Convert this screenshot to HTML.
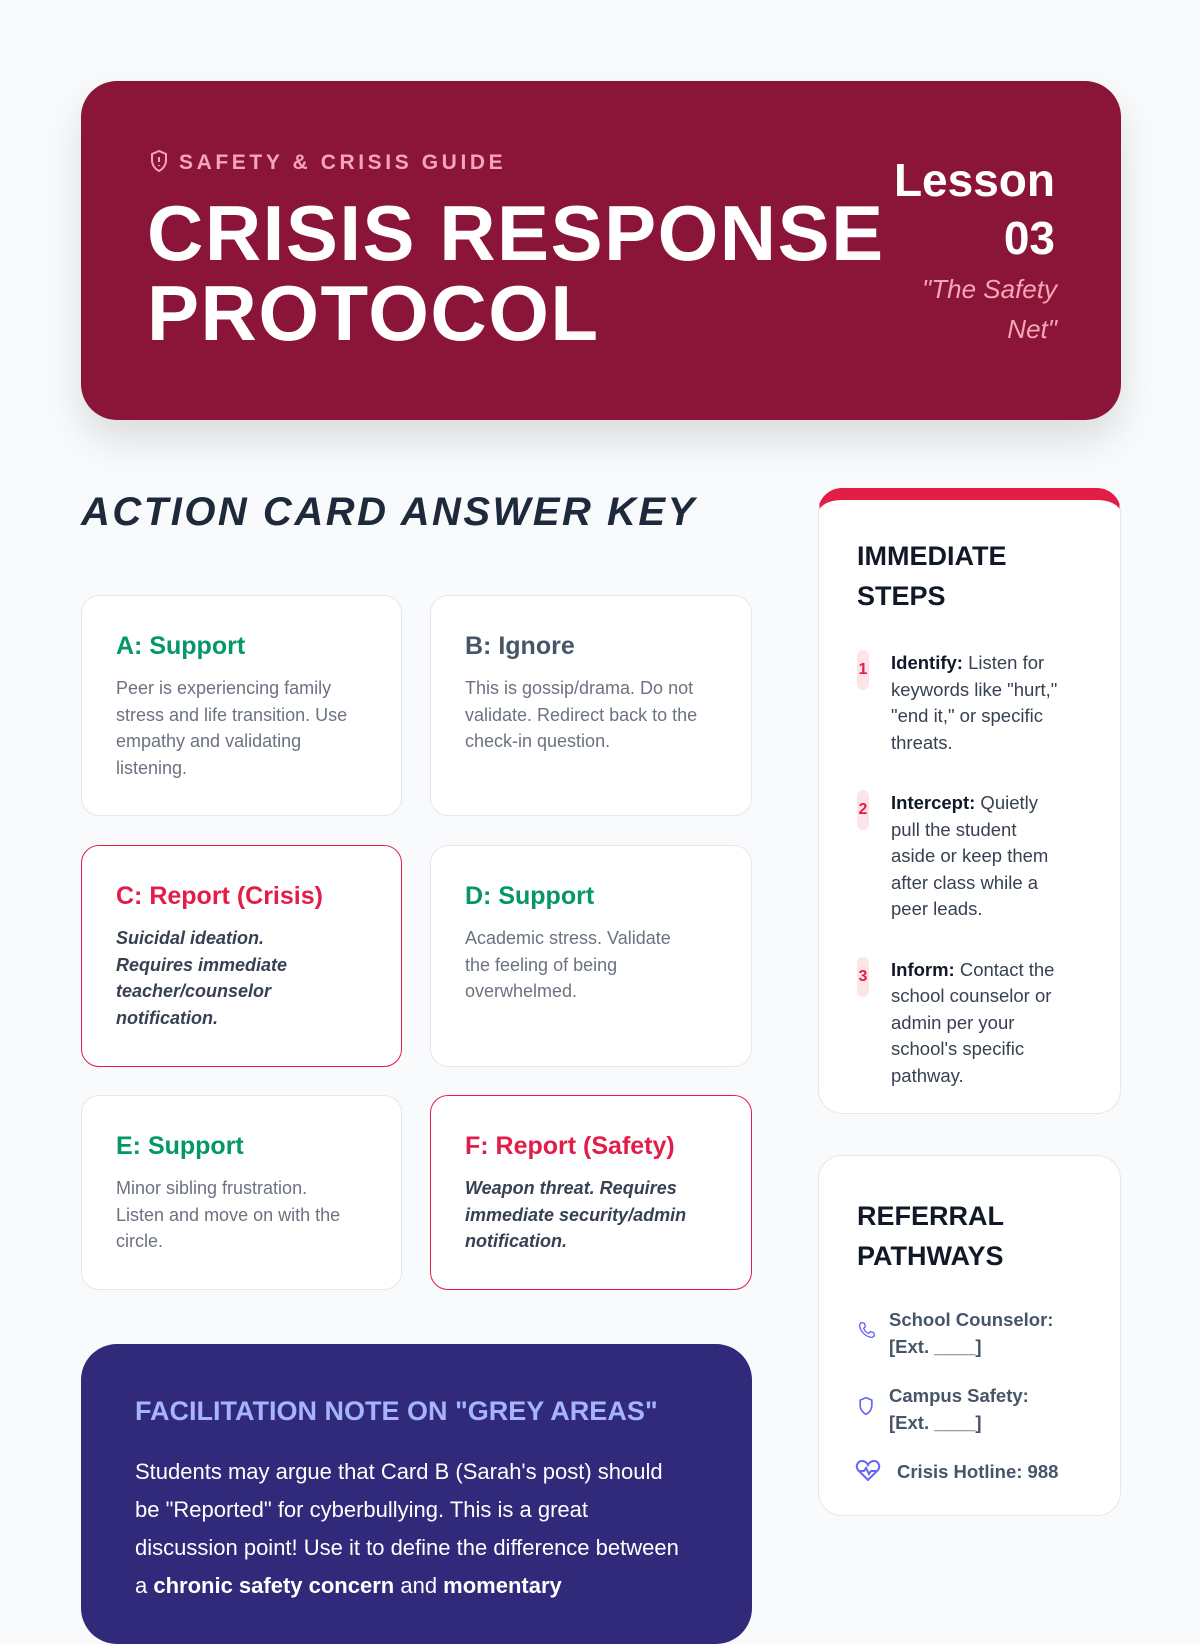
<!DOCTYPE html>
<html><head><meta charset="utf-8"><style>
*{box-sizing:border-box;margin:0;padding:0}
body{width:1200px;height:1600px;background:#f8fafc;font-family:"Liberation Sans",sans-serif;position:relative;overflow:hidden}
.hdr{position:absolute;left:81px;top:81px;width:1040px;height:339px;background:#8a1538;border-radius:36px;box-shadow:0 20px 40px rgba(0,0,0,.12)}
.kick{position:absolute;left:68px;top:68px;color:#f6a5b5;font-size:21px;font-weight:bold;letter-spacing:3.6px}
.title{position:absolute;left:66px;top:112px;color:#fff;font-size:78px;font-weight:900;line-height:80px;letter-spacing:1.5px}
.les{position:absolute;right:66px;top:70px;text-align:right;color:#fff;font-size:46px;line-height:58px;font-weight:bold}
.net{position:absolute;right:64px;top:188px;text-align:right;color:#f6a5b5;font-size:26px;line-height:40px;font-style:italic;width:160px}
.ak{position:absolute;left:81px;top:490px;font-size:40px;font-weight:900;font-style:italic;color:#1e293b;letter-spacing:2.5px}
.card{position:absolute;background:#fff;border:1.5px solid #e5e7eb;border-radius:18px;padding:36px 34px}
.card h3{font-size:25px;font-weight:bold;margin-bottom:14px}
.card p{font-size:18px;line-height:26.5px;color:#6b7280;width:252px}
.red{border:1.5px solid #e11d48}
.red p{font-style:italic;font-weight:bold;color:#374151;width:245px}
.g{color:#059669}.r{color:#e11d48}.s{color:#475569}
.purple{position:absolute;left:81px;top:1344px;width:671px;height:300px;background:#312a7a;border-radius:36px;padding:52px 54px}
.purple h3{color:#a5b4fc;font-size:27px;font-weight:bold;margin-bottom:26px}
.purple p{color:#fff;font-size:22px;line-height:38px;width:545px}
.side{position:absolute;left:818px;width:303px;background:#fff;border:1.5px solid #e5e7eb;border-radius:24px;padding:40px 38px}
.side h3{font-size:27px;font-weight:bold;color:#111827;line-height:40px}
.step{position:relative;padding-left:34px;font-size:18.5px;line-height:26.5px;color:#374151;margin-top:34px;width:225px}
.step .n{position:absolute;left:0;top:0;width:12px;height:40px;background:#fde4e9;border-radius:6px;color:#e11d48;font-weight:bold;font-size:16px;text-align:center;line-height:40px}
.step b{color:#111827}
.ref{position:relative;padding-left:32px;font-size:18.5px;line-height:27px;color:#475569;font-weight:bold;margin-top:22px;width:205px}
.ref svg{position:absolute;left:0;top:14px}
</style></head><body>
<div class="hdr">
 <div class="kick"><svg width="20" height="24" viewBox="0 0 20 24" style="vertical-align:-4px;margin-right:10px"><path d="M10 2L3 5v6c0 5 3 9 7 11 4-2 7-6 7-11V5z" fill="none" stroke="#f6a5b5" stroke-width="2"/><path d="M10 8v5M10 16v1" stroke="#f6a5b5" stroke-width="2"/></svg>SAFETY &amp; CRISIS GUIDE</div>
 <div class="title">CRISIS RESPONSE<br>PROTOCOL</div>
 <div class="les">Lesson<br>03</div>
 <div class="net">"The Safety Net"</div>
</div>
<div class="ak">ACTION CARD ANSWER KEY</div>

<div class="card" style="left:81px;top:595px;width:321px;height:221px"><h3 class="g">A: Support</h3><p>Peer is experiencing family stress and life transition. Use empathy and validating listening.</p></div>
<div class="card" style="left:430px;top:595px;width:322px;height:221px"><h3 class="s">B: Ignore</h3><p>This is gossip/drama. Do not validate. Redirect back to the check-in question.</p></div>
<div class="card red" style="left:81px;top:845px;width:321px;height:222px"><h3 class="r">C: Report (Crisis)</h3><p style="width:200px">Suicidal ideation. Requires immediate teacher/counselor notification.</p></div>
<div class="card" style="left:430px;top:845px;width:322px;height:222px"><h3 class="g">D: Support</h3><p style="width:235px">Academic stress. Validate the feeling of being overwhelmed.</p></div>
<div class="card" style="left:81px;top:1095px;width:321px;height:195px"><h3 class="g">E: Support</h3><p style="width:225px">Minor sibling frustration. Listen and move on with the circle.</p></div>
<div class="card red" style="left:430px;top:1095px;width:322px;height:195px"><h3 class="r">F: Report (Safety)</h3><p style="width:230px">Weapon threat. Requires immediate security/admin notification.</p></div>

<div class="purple"><h3>FACILITATION NOTE ON "GREY AREAS"</h3>
<p>Students may argue that Card B (Sarah's post) should be "Reported" for cyberbullying. This is a great discussion point! Use it to define the difference between a <b>chronic safety concern</b> and <b>momentary</b></p></div>

<div class="side" style="top:488px;height:626px;border-top:12px solid #e11d48;padding-top:36px">
 <h3>IMMEDIATE<br>STEPS</h3>
 <div class="step"><span class="n">1</span><b>Identify:</b> Listen for keywords like "hurt," "end it," or specific threats.</div>
 <div class="step" style="width:198px"><span class="n">2</span><b>Intercept:</b> Quietly pull the student aside or keep them after class while a peer leads.</div>
 <div class="step"><span class="n">3</span><b>Inform:</b> Contact the school counselor or admin per your school's specific pathway.</div>
</div>
<div class="side" style="top:1155px;height:361px">
 <h3>REFERRAL<br>PATHWAYS</h3>
 <div class="ref" style="margin-top:30px"><svg width="20" height="20" viewBox="0 0 24 24"><path d="M5 3l4 1 1 4-2 2c1 3 3 5 6 6l2-2 4 1 1 4-3 2C10 20 4 14 3 6z" fill="none" stroke="#6366f1" stroke-width="1.6"/></svg>School Counselor: [Ext. ____]</div>
 <div class="ref" style="width:190px"><svg width="18" height="20" viewBox="0 0 20 24"><path d="M10 2L3 5v6c0 5 3 9 7 11 4-2 7-6 7-11V5z" fill="none" stroke="#6366f1" stroke-width="2"/></svg>Campus Safety: [Ext. ____]</div>
 <div class="ref" style="width:230px"><svg width="26" height="22" viewBox="0 0 26 22" style="top:2px;left:-2px"><path d="M13 20L3 10C0 6 3 1 7 1c3 0 5 2 6 4 1-2 3-4 6-4 4 0 7 5 4 9z" fill="none" stroke="#6366f1" stroke-width="2"/><path d="M4 11h5l2-3 3 6 2-3h6" fill="none" stroke="#6366f1" stroke-width="2"/></svg><span style="margin-left:8px">Crisis Hotline: 988</span></div>
</div>
</body></html>
